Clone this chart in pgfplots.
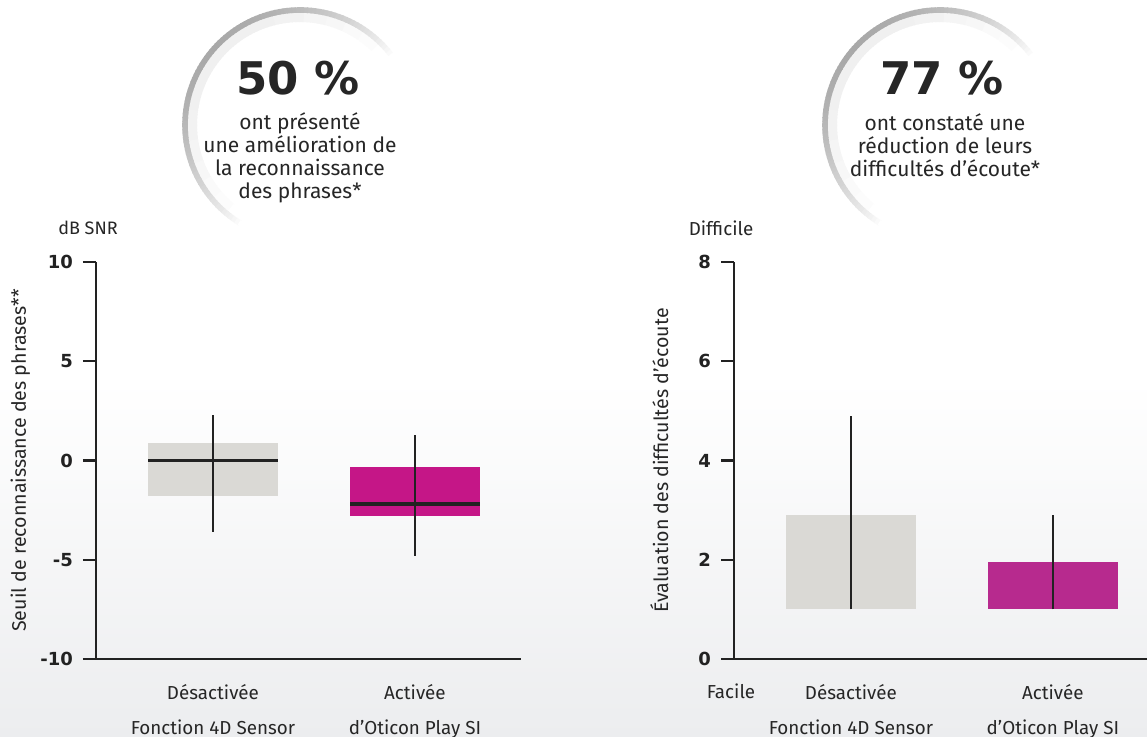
\documentclass[border=0pt]{standalone}
\usepackage{pgfplots}
\pgfplotsset{compat=1.18}
\usepgfplotslibrary{statistics}
\usepackage{fontspec}
\setmainfont{Fira Sans}
\newfontfamily\numfont{DejaVu Sans}

\definecolor{boxgrey}{RGB}{218,217,213}
\definecolor{magA}{RGB}{197,22,135}
\definecolor{magB}{RGB}{183,42,142}
\definecolor{axisc}{RGB}{34,34,34}
\definecolor{bgc}{RGB}{236,237,239}
\definecolor{txt}{RGB}{38,38,38}
\definecolor{rim}{RGB}{168,168,168}

\pgfplotsset{
  panel/.style={
    scale only axis, anchor=south west, clip=false,
    axis x line=bottom, axis y line=left,
    axis line style={-, axisc, line width=1.2pt},
    xtick={0,1}, xtick style={draw=none},
    ytick style={axisc, line width=1.2pt},
    tick align=outside, major tick length=6.5pt,
    yticklabel style={font=\numfont\bfseries\fontsize{9}{10}\selectfont, text=axisc, xshift=-1.5pt},
    xticklabel style={align=center, font=\fontsize{9.4}{17.5}\selectfont, text=txt, yshift=-2.5pt},
    xticklabels={Désactivée\\Fonction 4D Sensor, Activée\\d’Oticon Play SI},
    ylabel style={font=\fontsize{9.8}{11}\selectfont, text=txt, anchor=center},
    xmin=-0.579,
    boxplot/draw direction=y,
  }
}

\begin{document}
\begin{tikzpicture}[x=0.5pt, y=0.5pt]
\useasboundingbox (0,0) rectangle (1147,737);
\fill[white] (0,0) rectangle (1147,737);
\shade[top color=white, bottom color=bgc] (0,0) rectangle (1147,357);

% circles
\foreach \cx in {300,940}{
  \foreach \a in {36,38,...,238}{
    \pgfmathtruncatemacro\pc{100*max(0,sin((\a-36)/202*180))^0.8}
    \pgfmathtruncatemacro\ps{7*max(0,sin((\a-36)/202*180))}
    \draw[black!\ps!white, line width=5pt] ([shift={(\a:108)}]\cx,612) arc[start angle=\a, end angle=\a+2.6, radius=108];
  }
  \foreach \a in {36,38,...,238}{
    \pgfmathtruncatemacro\pc{100*max(0,sin((\a-36)/202*180))^0.8}
    \draw[rim!\pc!white, line width=2.8pt] ([shift={(\a:115)}]\cx,612) arc[start angle=\a, end angle=\a+2.6, radius=115];
  }
}
\node[text=txt, font=\numfont\bfseries\fontsize{22.5}{24}\selectfont] at (298,659) {50 \%};
\node[text=txt, align=center, font=\fontsize{10.5}{11.5}\selectfont] at (300,579) {ont présenté\\une amélioration de\\la reconnaissance\\des phrases*};
\node[text=txt, font=\numfont\bfseries\fontsize{22.5}{24}\selectfont] at (942,659) {77 \%};
\node[text=txt, align=center, font=\fontsize{10.5}{11.5}\selectfont] at (945,592) {ont constaté une\\réduction de leurs\\difficultés d’écoute*};

% left panel
\begin{axis}[panel, at={(48pt,39pt)}, width=212.5pt, height=198.5pt,
  xmax=1.525, ymin=-10, ymax=10,
  ytick={-10,-5,0,5,10}, yticklabels={-10,-5,0,5,10},
  ylabel={Seuil de reconnaissance des phrases**},
  ylabel style={at={(axis description cs:-0.178,0.5)}},
]
\addplot[boxplot prepared={draw position=0, lower whisker=-3.6, lower quartile=-1.8,
  median=0, upper quartile=0.9, upper whisker=2.3, box extend=0.64, whisker extend=0,
  every box/.style={draw=none, fill=boxgrey}, every whisker/.style={draw=none},
  every median/.style={axisc, line width=1.8pt}}] coordinates {};
\addplot[axisc, line width=1pt, mark=none] coordinates {(0,-3.6) (0,2.3)};
\addplot[boxplot prepared={draw position=1, lower whisker=-4.8, lower quartile=-2.8,
  median=-2.2, upper quartile=-0.35, upper whisker=1.3, box extend=0.64, whisker extend=0,
  every box/.style={draw=none, fill=magA}, every whisker/.style={draw=none},
  every median/.style={axisc, line width=1.8pt}}] coordinates {};
\addplot[axisc, line width=1pt, mark=none] coordinates {(1,-4.8) (1,1.3)};
\end{axis}

% right panel
\begin{axis}[panel, at={(367pt,39pt)}, width=206.5pt, height=198.5pt,
  xmax=1.466, ymin=0, ymax=8,
  ytick={0,2,4,6,8}, yticklabels={0,2,4,6,8},
  ylabel={Évaluation des difficultés d’écoute},
  ylabel style={at={(axis description cs:-0.181,0.5)}},
]
\addplot[boxplot prepared={draw position=0, lower whisker=1, lower quartile=1,
  median=1, upper quartile=2.9, upper whisker=4.9, box extend=0.64, whisker extend=0,
  every box/.style={draw=none, fill=boxgrey}, every whisker/.style={draw=none},
  every median/.style={draw=none}}] coordinates {};
\addplot[axisc, line width=1pt, mark=none] coordinates {(0,1) (0,4.9)};
\addplot[boxplot prepared={draw position=1, lower whisker=1, lower quartile=1,
  median=1, upper quartile=1.95, upper whisker=2.9, box extend=0.64, whisker extend=0,
  every box/.style={draw=none, fill=magB}, every whisker/.style={draw=none},
  every median/.style={draw=none}}] coordinates {};
\addplot[axisc, line width=1pt, mark=none] coordinates {(1,1) (1,2.9)};
\end{axis}

\node[text=txt, font=\fontsize{9}{11}\selectfont] at (88,509) {dB SNR};
\node[text=txt, font=\fontsize{9.4}{11}\selectfont] at (721,509) {Difficile};
\node[text=txt, font=\fontsize{9.4}{11}\selectfont] at (731,46) {Facile};
\end{tikzpicture}
\end{document}
